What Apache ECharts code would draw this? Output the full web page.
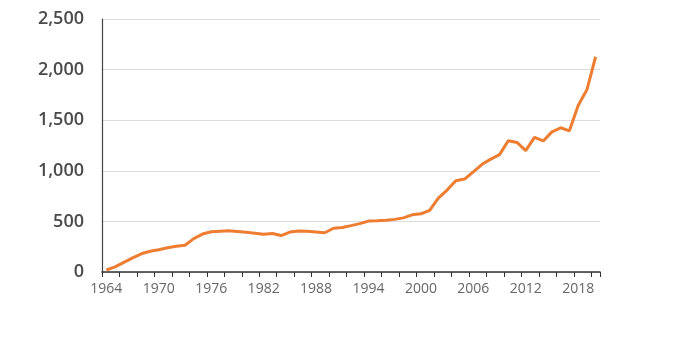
<!DOCTYPE html>
<html>
<head>
<meta charset="utf-8">
<script src="https://cdn.jsdelivr.net/npm/echarts@6/dist/echarts.min.js"></script>
<style>
  html, body { margin: 0; padding: 0; background: #fff; }
  #chart { width: 675px; height: 340px; }
</style>
</head>
<body>
<div id="chart"></div>
<script>
// Annual values, 1964–2020
const years = [
  1964, 1965, 1966, 1967, 1968, 1969, 1970, 1971, 1972, 1973,
  1974, 1975, 1976, 1977, 1978, 1979, 1980, 1981, 1982, 1983,
  1984, 1985, 1986, 1987, 1988, 1989, 1990, 1991, 1992, 1993,
  1994, 1995, 1996, 1997, 1998, 1999, 2000, 2001, 2002, 2003,
  2004, 2005, 2006, 2007, 2008, 2009, 2010, 2011, 2012, 2013,
  2014, 2015, 2016, 2017, 2018, 2019, 2020
];
const values = [
  20, 50, 95, 140, 180, 205, 220, 240, 255, 265,
  330, 375, 398, 403, 408, 400, 392, 383, 373, 380,
  360, 395, 405, 402, 395, 388, 432, 440, 458, 478,
  503, 507, 512, 520, 535, 565, 575, 610, 730, 810,
  902, 918, 990, 1064, 1115, 1160, 1297, 1280, 1200, 1330,
  1295, 1385, 1425, 1395, 1645, 1800, 2127
];
const yMin = 0, yMax = 2500, yStep = 500;

const chart = echarts.init(document.getElementById('chart'), null, { renderer: 'canvas' });
chart.setOption({
  animation: false,
  grid: { left: 102, right: 75, top: 19, bottom: 68, containLabel: false },
  xAxis: {
    type: 'category',
    data: years.map(String),
    boundaryGap: true,
    axisLine: { show: true, lineStyle: { color: '#333', width: 1.5 } },
    axisTick: { show: true, interval: 1, length: 5, lineStyle: { color: '#333' } },
    axisLabel: {
      interval: 5,
      color: '#666',
      fontFamily: 'Open Sans',
      fontSize: 14,
      margin: 10
    },
    splitLine: { show: false }
  },
  yAxis: {
    type: 'value',
    min: yMin, max: yMax, interval: yStep,
    axisLine: { show: true, lineStyle: { color: '#444', width: 1.2 } },
    axisTick: { show: false },
    axisLabel: {
      color: '#4a4a4a',
      fontFamily: 'Open Sans',
      fontWeight: 600,
      fontSize: 18,
      margin: 18,
      formatter: v => v.toLocaleString('en-US')
    },
    splitLine: { show: true, lineStyle: { color: '#ddd', width: 1 } }
  },
  series: [{
    type: 'line',
    data: values,
    showSymbol: false,
    symbol: 'none',
    lineStyle: { color: '#ED7D31', width: 3 },
    itemStyle: { color: '#ED7D31' }
  }]
});
</script>
</body>
</html>
